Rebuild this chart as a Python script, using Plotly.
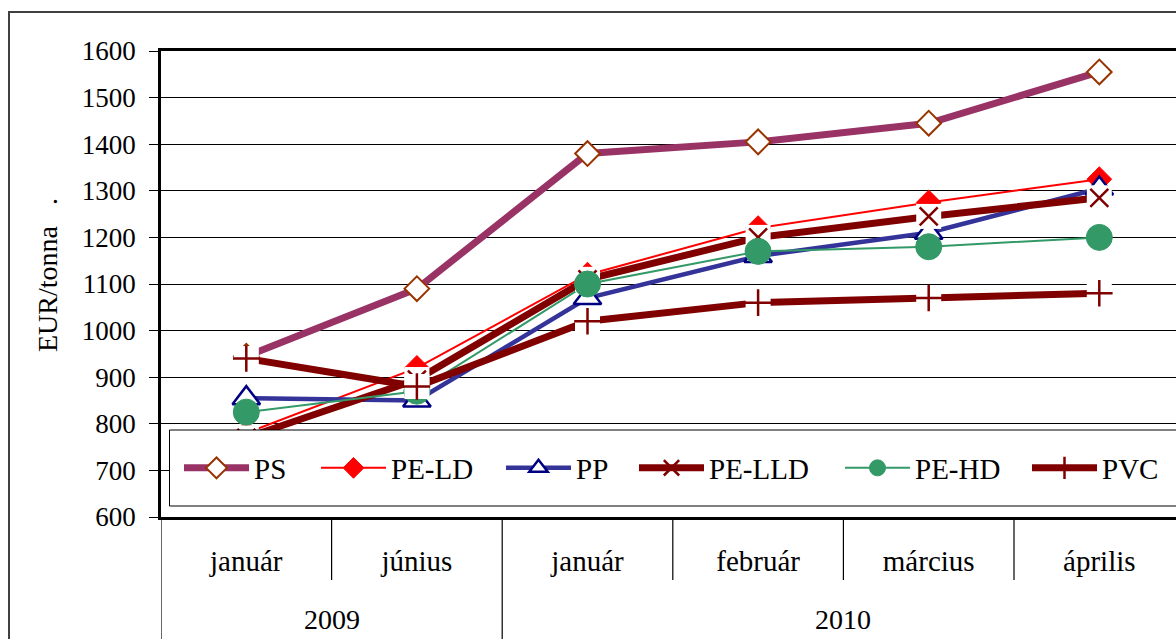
import plotly.graph_objects as go

# ---------------- data ----------------
months = ["január", "június", "január", "február", "március", "április"]
years = ["2009", "2009", "2010", "2010", "2010", "2010"]
series_names = ["PS", "PE-LD", "PP", "PE-LLD", "PE-HD", "PVC"]
ps = [945, 1090, 1380, 1405, 1445, 1555]
pe_ld = [780, 920, 1120, 1220, 1275, 1325]
pp = [855, 850, 1070, 1160, 1210, 1305]
pe_lld = [770, 895, 1110, 1200, 1245, 1285]
pe_hd = [825, 870, 1100, 1170, 1180, 1200]
pvc = [940, 880, 1020, 1060, 1070, 1080]
y_ticks = list(range(600, 1601, 100))

values = [ps, pe_ld, pp, pe_lld, pe_hd, pvc]
x = list(range(len(months)))

FONT = "Liberation Serif"

styles = {
    "PS": dict(lc="#993366", lw=7, sym="diamond", mc="white", mlc="#993300", mlw=2, ms=19, bg=False),
    "PE-LD": dict(lc="#FF0000", lw=2, sym="diamond", mc="#FF0000", mlc="#FF0000", mlw=1, ms=19, bg=False),
    "PP": dict(lc="#333399", lw=4.5, sym="triangle-up", mc="white", mlc="#000080", mlw=2.5, ms=24, bg=False),
    "PE-LLD": dict(lc="#800000", lw=7, sym="x-thin-open", mc="#800000", mlc="#800000", mlw=2.5, ms=18, bg=True),
    "PE-HD": dict(lc="#339966", lw=2, sym="circle", mc="#339966", mlc="#339966", mlw=1, ms=26, bg=False),
    "PVC": dict(lc="#800000", lw=7, sym="cross-thin-open", mc="#800000", mlc="#800000", mlw=2.5, ms=19, bg=True),
}

fig = go.Figure()

# all lines first (like the original chart)
for name, vals in zip(series_names, values):
    s = styles[name]
    fig.add_trace(go.Scatter(x=x, y=vals, mode="lines", showlegend=False,
                             line=dict(color=s["lc"], width=s["lw"]), hoverinfo="skip"))

# then all markers
for name, vals in zip(series_names, values):
    s = styles[name]
    if s["bg"]:
        fig.add_trace(go.Scatter(x=x, y=vals, mode="markers", showlegend=False,
                                 marker=dict(symbol="square", size=25, color="white",
                                             line=dict(width=0)), hoverinfo="skip"))
    fig.add_trace(go.Scatter(x=x, y=vals, mode="markers", showlegend=False, name=name,
                             marker=dict(symbol=s["sym"], size=s["ms"], color=s["mc"],
                                         line=dict(color=s["mlc"], width=s["mlw"]))))

# legend entries (one legend per entry to match spacing)
legend_px = [186, 323, 508, 641, 847, 1034]
PLOT_L = 161
PLOT_T, PLOT_B = 51, 517
PLOT_W = 1176 - PLOT_L
PLOT_H = PLOT_B - PLOT_T
CAT_W = 170.6
layout_legends = {}
for i, name in enumerate(series_names):
    s = styles[name]
    key = "legend" if i == 0 else f"legend{i+1}"
    fig.add_trace(go.Scatter(x=[None], y=[None], mode="lines+markers", name=name,
                             legend=key, showlegend=True,
                             line=dict(color=s["lc"], width=s["lw"]),
                             marker=dict(symbol=s["sym"], size=s["ms"] * 0.85, color=s["mc"],
                                         line=dict(color=s["mlc"], width=s["mlw"]))))
    layout_legends[key] = dict(
        x=(legend_px[i] - 7 - PLOT_L) / PLOT_W, xanchor="left",
        y=(PLOT_B - 468) / PLOT_H, yanchor="middle",
        orientation="h", bgcolor="rgba(0,0,0,0)", borderwidth=0,
        font=dict(family=FONT, size=29, color="black"),
        itemwidth=65,
    )

shapes = []
# legend box
shapes.append(dict(type="rect", xref="paper", yref="paper",
                   x0=(169.5 - PLOT_L) / PLOT_W, x1=1.02,
                   y0=(PLOT_B - 506) / PLOT_H, y1=(PLOT_B - 430) / PLOT_H,
                   line=dict(color="black", width=1), fillcolor="white", layer="above"))
# outer chart frame
shapes.append(dict(type="rect", xref="paper", yref="paper",
                   x0=(9 - PLOT_L) / PLOT_W, x1=1.05,
                   y0=-0.4, y1=(PLOT_B - 12) / PLOT_H,
                   line=dict(color="#404040", width=2), fillcolor="rgba(0,0,0,0)", layer="below"))
# category dividers
for i in range(len(months) + 1):
    bx = i - 0.5
    if i == 0 or i == len(months) or years[i] != years[i - 1]:
        y0 = -0.3
    else:
        y0 = (PLOT_B - 580) / PLOT_H
    shapes.append(dict(type="line", xref="x", yref="paper", x0=bx, x1=bx, y0=0, y1=y0,
                       line=dict(color="black", width=1.2)))

annotations = []
# year group labels
groups = []
for i, yv in enumerate(years):
    if groups and groups[-1][0] == yv:
        groups[-1][1].append(i)
    else:
        groups.append([yv, [i]])
for yv, idx in groups:
    annotations.append(dict(x=(idx[0] + idx[-1]) / 2, xref="x", y=(PLOT_B - 619) / PLOT_H, yref="paper",
                            text=yv, showarrow=False, yanchor="middle",
                            font=dict(family=FONT, size=28, color="black")))
# y title
annotations.append(dict(x=(47 - PLOT_L) / PLOT_W, xref="paper", y=(PLOT_B - 275) / PLOT_H, yref="paper",
                        text="EUR/tonna\u00a0\u00a0\u00a0.", textangle=-90, showarrow=False,
                        xanchor="center", yanchor="middle",
                        font=dict(family=FONT, size=28, color="black")))

fig.update_layout(
    width=1176, height=639,
    margin=dict(l=PLOT_L, r=0, t=PLOT_T, b=639 - PLOT_B),
    paper_bgcolor="white", plot_bgcolor="white",
    font=dict(family=FONT, size=27, color="black"),
    shapes=shapes, annotations=annotations,
    xaxis=dict(range=[-0.5, -0.5 + PLOT_W / CAT_W], tickvals=x, ticktext=months,
               showgrid=False, zeroline=False, showline=True, linecolor="black", linewidth=2.5,
               mirror=True, ticks="", ticklabelstandoff=16,
               tickfont=dict(family=FONT, size=29, color="black")),
    yaxis=dict(range=[600, 1600], tickvals=y_ticks, showgrid=True, gridcolor="black", gridwidth=1,
               zeroline=False, showline=True, linecolor="black", linewidth=2.5, mirror=False,
               ticks="outside", ticklen=9, tickcolor="black", tickwidth=1,
               ticklabelstandoff=8,
               tickfont=dict(family=FONT, size=27, color="black")),
    showlegend=True,
    **layout_legends,
)

fig.write_html("out.html", post_script="document.body.style.margin='0px';",
               config={"displayModeBar": False})
